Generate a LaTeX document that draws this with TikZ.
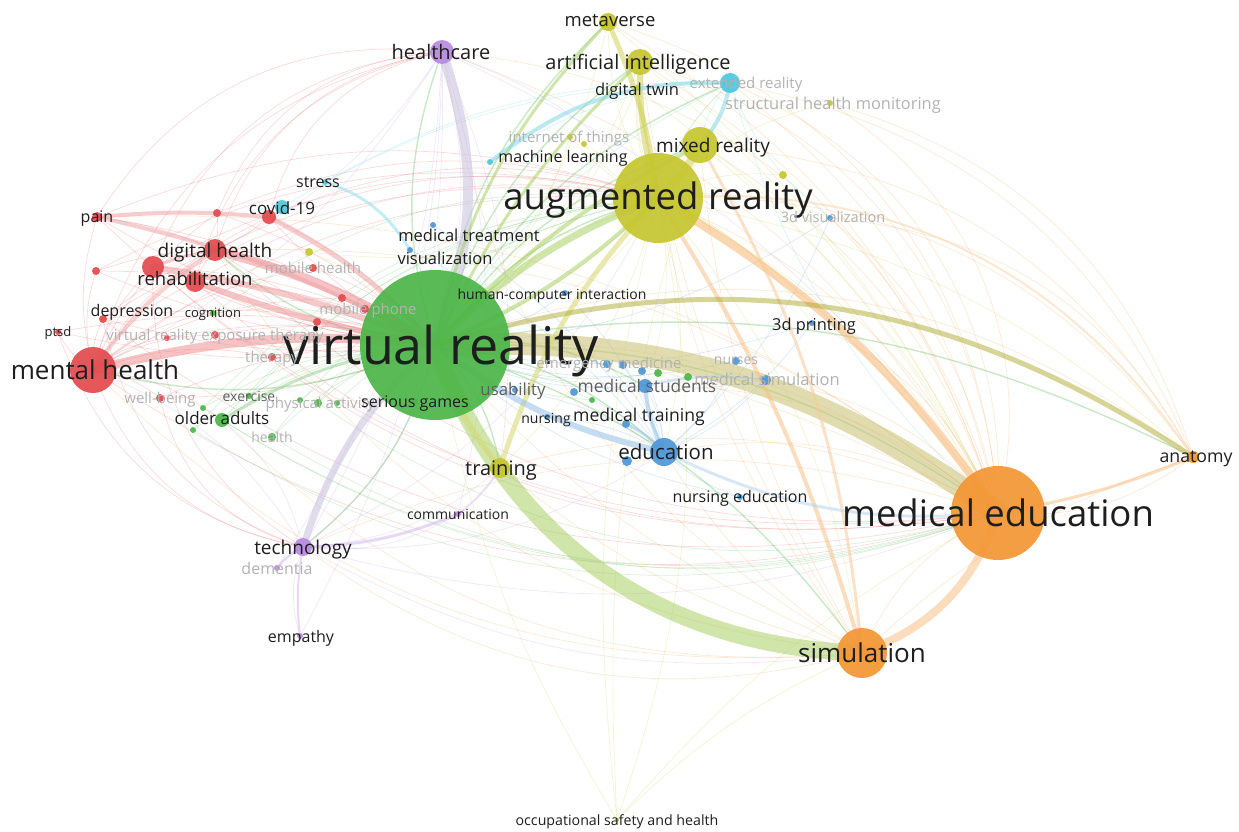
\documentclass[tikz,border=0pt]{standalone}
\usepackage{fontspec}
\setmainfont{Open Sans}
\usetikzlibrary{calc}

\definecolor{cgreen}{RGB}{76,182,72}
\definecolor{cyel}{RGB}{198,198,48}
\definecolor{corange}{RGB}{244,150,52}
\definecolor{cred}{RGB}{226,74,78}
\definecolor{cblue}{RGB}{78,150,214}
\definecolor{cpurp}{RGB}{184,138,224}
\definecolor{ccyan}{RGB}{78,200,222}
\definecolor{ink}{RGB}{30,30,30}
\definecolor{midink}{RGB}{95,95,95}
\definecolor{faintink}{RGB}{178,178,178}
\definecolor{khaki}{RGB}{200,192,112}
\definecolor{lgreen}{RGB}{168,208,100}
\definecolor{lavender}{RGB}{200,192,222}

\pgfdeclarelayer{paper}
\pgfdeclarelayer{edges}
\pgfsetlayers{paper,edges,main}

\begin{document}
\begin{tikzpicture}[x=1pt, y=-1pt,
                    kw/.style={circle, inner sep=0pt, fill opacity=0.92},
                    lab/.style={inner sep=0pt, text depth=0pt},
                    faint edge/.style={line width=0.7pt, opacity=0.2},
                    mid edge/.style={line width=1.4pt, opacity=0.3},
                    band/.style={line cap=round, opacity=0.55}
                    ]
    \useasboundingbox (0,0) rectangle (1239,832);
    \begin{pgfonlayer}{paper}
    \fill[white] (0,0) rectangle (1239,832);
    \end{pgfonlayer}

    % keywords: name/x/y/radius/colour
    \foreach \n/\x/\y/\r/\c in {
        vr/435/345/75/cgreen, ar/658/198/45/cyel, me/998/513/47/corange,
        sim/862/653/25/corange, mh/93/370/23/cred, edu/664/452/14/cblue,
        mr/700/145/18/cyel, trn/500/468/10/cyel, hc/442/52/12/cpurp,
        tech/303/547/9/cpurp, ai/640/62/13/cyel, meta/608/22/9/cyel,
        xr/730/83/10/ccyan, dh/215/250/11/cred, reh/195/282/10/cred,
        rx/153/267/11/cred, cov/282/207/7/ccyan, covr/269/217/7/cred,
        pain/97/217/5/cred, stress/325/182/3/ccyan, dep/103/319/4/cred,
        ptsd/58/332/3/cred, cog/213/313/3/cgreen, vret/215/335/4/cred,
        vret2/167/338/3/cred, ther/272/357/4/cred, wb/160/398/4/cred,
        oa/222/420/7/cgreen, pa/318/403/4/cgreen, pa2/300/400/3/cgreen,
        pa3/337/403/3/cgreen, hlth/272/437/4/cgreen, g1/203/408/3/cgreen,
        g2/193/430/3/cgreen, mobh/313/268/4/cred, mobp/365/309/4/cred,
        r1/342/298/4/cred, r2/317/322/4/cred, y1/309/252/4/cyel,
        r3/217/213/4/cred, r4/96/271/4/cred, medt/433/225/3/cblue,
        vis/410/250/3/cblue, ml/490/162/3/ccyan, iot/570/137/3/cyel,
        y2/584/144/3/cyel, dt/637/88/3/cyel, shm/830/103/3/cyel,
        y3/783/175/4/cyel, v3d/830/218/3/cblue, hci/565/293/3/cblue,
        p3d/812/323/3/cblue, usab/515/390/3/cblue, ms/645/386/7/cblue,
        msim/766/380/5/cblue, nurses/736/361/4/cblue, em/607/364/4/cblue,
        b2/623/365/4/cblue, b3/642/371/4/cblue, g3/658/373/4/cgreen,
        g4/688/377/4/cgreen, g5/592/400/3/cgreen, b4/574/392/4/cblue,
        mt/626/424/4/cblue, nurs/547/417/3/cblue, b5/627/461/5/cblue,
        ne/740/497/3/cblue, comm/458/514/3/cpurp, dem/277/568/3/cpurp,
        emp/300/636/3/cpurp, anat/1193/457/6/corange, osh/617/820/2/cyel,
        sg/415/402/3/cgreen, exer/249/396/3/cgreen}
        \node[kw, fill=\c, minimum size=2*\r] (\n) at (\x,\y) {};

    \begin{pgfonlayer}{edges}
    % thin links by cluster
    \foreach \n in {pain,dep,ptsd,vret,vret2,ther,wb,mobh,mobp,r1,r2,r3,r4,rx,covr,dh,reh}
        \draw[faint edge, cred] (\n.center) to[bend left=12] (vr.center);
    \foreach \n in {pain,dep,ptsd,vret,wb,r4,rx,dh,reh,covr}
        \draw[faint edge, cred] (\n.center) to[bend right=10] (vr.center);
    \foreach \n in {pain,dep,ptsd,dh,reh,rx,r4,vret,vret2,ther,wb,covr,r3,cog,oa,mobh,r1}
        \draw[faint edge, cred] (mh.center) to[bend left=15] (\n.center);
    \foreach \n in {pain,r3,covr,r4,dh,reh,rx,dep,mobh}
        \draw[faint edge, cred] (\n.center) to[bend left=8] (dh.center);
    \foreach \n in {mh,dh,reh,rx,pain,covr,r3,dep,r4}
        \draw[faint edge, cred] (\n.center) to[bend left=20] (ar.center);
    \foreach \n in {mh,dh,reh,rx,pain,covr,r3}
        \draw[faint edge, cred] (\n.center) to[bend left=32] (hc.center);
    \foreach \n in {mh,dh,reh,rx,pain,dep}
        \draw[faint edge, cred] (\n.center) to[bend right=25] (me.center);
    \foreach \n in {mh,wb,dep,ptsd,rx}
        \draw[faint edge, cred] (\n.center) to[bend right=30] (tech.center);
    \foreach \n in {cog,oa,pa,pa2,pa3,hlth,g1,g2,exer,sg,g3,g4,g5}
        \draw[faint edge, cgreen] (vr.center) to[bend right=15] (\n.center);
    \foreach \n in {oa,pa,hlth,g1,g2,exer,cog}
        \draw[faint edge, cgreen] (\n.center) to[bend left=20] (ar.center);
    \foreach \n in {oa,pa,hlth,g1,g2}
        \draw[faint edge, cgreen] (\n.center) to[bend right=25] (me.center);
    \foreach \n in {ar,me,sim,mr,ai,meta,edu,ms,anat,hc,tech,xr,trn,mh,dh}
        \draw[mid edge, cgreen] (vr.center) to[bend left=18] (\n.center);
    \foreach \n in {meta,ai,mr,iot,y2,dt,shm,y3,trn,osh,ml,xr,hci,p3d,v3d,edu,ms,sim,me,anat,y1}
        \draw[faint edge, cyel] (ar.center) to[bend left=15] (\n.center);
    \foreach \n in {meta,ai,mr,trn,y1,iot,dt}
        \draw[faint edge, cyel] (\n.center) to[bend left=15] (vr.center);
    \foreach \n in {meta,ai,mr,dt,iot}
        \draw[faint edge, cyel] (\n.center) to[bend left=12] (me.center);
    \foreach \n in {ms,mt,nurs,b5,ne,usab,b2,b3,b4,em,nurses,msim,p3d,v3d,hci,medt,vis}
        \draw[faint edge, cblue] (edu.center) to[bend right=12] (\n.center);
    \foreach \n in {medt,vis,hci,p3d,v3d,usab,ms,msim,nurses,ne}
        \draw[faint edge, cblue] (\n.center) to[bend left=15] (vr.center);
    \foreach \n in {sim,anat,ar,mr,ai,meta,xr,msim,p3d,v3d,ms,edu,trn,vr,hc,tech,mh,dh,pain}
        \draw[faint edge, corange] (me.center) to[bend right=20] (\n.center);
    \foreach \n in {hc,meta,ai,xr,shm}
        \draw[faint edge, corange] (me.center) to[bend right=35] (\n.center);
    \foreach \n in {ar,mr,xr,shm,v3d,vr}
        \draw[faint edge, corange] (anat.center) to[bend right=28] (\n.center);
    \foreach \n in {ar,mr,ai,vr,edu,anat,trn}
        \draw[faint edge, corange] (sim.center) to[bend left=12] (\n.center);
    \foreach \n in {mh,tech,dh,oa,hc}
        \draw[faint edge, corange] (sim.center) to[bend left=25] (\n.center);
    \foreach \n in {vr,ar,tech,comm,emp,dem,mh,dh,me,trn}
        \draw[faint edge, cpurp] (hc.center) to[bend left=15] (\n.center);
    \foreach \n in {comm,emp,dem,trn,vr,ar,me,sim,mh,oa,edu}
        \draw[faint edge, cpurp] (tech.center) to[bend right=18] (\n.center);
    \foreach \n in {ml,stress,cov,mr,ar,vr,v3d,me}
        \draw[faint edge, ccyan] (xr.center) to[bend right=15] (\n.center);
    \foreach \n in {ar,vr,me,mr,sim}
        \draw[faint edge, cyel] (osh.center) to[bend left=10] (\n.center);

    % strong links
    \draw[band, khaki, line width=22pt] (vr.center) to[bend left=19] (me.center);
    \draw[band, lgreen, line width=17pt] (vr.center) to[bend right=34] (sim.center);
    \draw[band, corange!70, line width=8pt] (ar.center) to[bend left=12] (me.center);
    \draw[band, corange!60, line width=8pt] (sim.center) to[bend right=25] (me.center);
    \draw[band, corange!60, line width=4pt] (ar.center) to[bend left=8] (sim.center);
    \draw[band, corange!50, line width=3pt] (mr.center) to[bend left=12] (sim.center);
    \draw[band, lgreen, line width=7pt] (vr.center) to[bend left=12] (ar.center);
    \draw[band, lgreen, line width=4pt] (vr.center) to[bend right=10] (ar.center);
    \draw[band, cyel!70, line width=5pt] (ar.center) to[bend right=12] (trn.center);
    \draw[band, lavender, line width=10pt] (hc.center) to[bend left=20] (vr.center);
    \draw[band, lavender, line width=7pt] (tech.center) to[bend left=15] (vr.center);
    \draw[band, cred!60, line width=9pt] (mh.center) to[bend left=10] (vr.center);
    \draw[band, cred!60, line width=9pt] (dh.center) to[bend left=8] (vr.center);
    \draw[band, cred!60, line width=6pt] (reh.center) to[bend right=5] (vr.center);
    \draw[band, cred!55, line width=6pt] (rx.center) to[bend left=6] (vr.center);
    \draw[band, cred!50, line width=5pt] (covr.center) to[bend left=10] (vr.center);
    \draw[band, cred!50, line width=4pt] (pain.center) to[bend left=8] (vr.center);
    \draw[band, cred!50, line width=4pt] (pain.center) to[bend left=5] (covr.center);
    \draw[band, cred!45, line width=4pt] (mh.center) to[bend left=10] (dh.center);
    \draw[band, cred!45, line width=3pt] (rx.center) to[bend left=5] (dh.center);
    \draw[band, cblue!60, line width=6pt] (vr.center) to[bend right=12] (edu.center);
    \draw[band, cblue!60, line width=4pt] (edu.center) to[bend left=10] (ms.center);
    \draw[band, cblue!50, line width=3pt] (edu.center) to[bend right=10] (mt.center);
    \draw[band, cblue!40, line width=3pt] (edu.center) to[bend right=15] (me.center);
    \draw[band, cblue!50, line width=2pt] (ms.center) to[bend left=10] (msim.center);
    \draw[band, cyel!80, line width=8pt] (ar.center) to[bend right=10] (mr.center);
    \draw[band, cyel!80, line width=6pt] (ar.center) to[bend left=8] (ai.center);
    \draw[band, cyel!80, line width=5pt] (ar.center) to[bend right=8] (meta.center);
    \draw[band, lgreen, line width=3pt] (vr.center) to[bend left=10] (ai.center);
    \draw[band, lgreen, line width=3pt] (vr.center) to[bend left=15] (meta.center);
    \draw[band, lgreen, line width=4pt] (vr.center) to[bend left=10] (mr.center);
    \draw[band, cyel!70, line width=5pt] (vr.center) to[bend right=10] (trn.center);
    \draw[band, olive!60!cyel, line width=5pt, opacity=0.45] (vr.center) to[bend left=25] (anat.center);
    \draw[band, corange!60, line width=3pt] (me.center) to[bend right=6] (anat.center);
    \draw[band, corange!40, line width=2pt] (ar.center) to[bend left=30] (anat.center);
    \draw[band, ccyan!70, line width=4pt] (xr.center) to[bend right=20] (ml.center);
    \draw[band, ccyan!70, line width=4pt] (xr.center) to[bend left=15] (mr.center);
    \draw[band, ccyan!60, line width=3pt] (stress.center) to[bend left=20] (vis.center);
    \draw[band, cpurp!60, line width=3pt] (tech.center) to[bend right=10] (comm.center);
    \draw[band, cpurp!60, line width=2pt] (tech.center) to[bend right=8] (emp.center);
    \draw[band, cpurp!60, line width=2pt] (tech.center) to[bend right=10] (dem.center);
    \draw[band, cpurp!50, line width=2pt] (comm.center) to[bend right=10] (trn.center);
    \draw[band, cgreen!60, line width=3pt] (oa.center) to[bend left=12] (vr.center);
    \end{pgfonlayer}

    % labels: node/text/size/dx/dy/colour
    \foreach \n/\t/\s/\dx/\dy/\c in {
        vr/virtual reality/52/6/0/ink, ar/augmented reality/36.5/0/-2/ink,
        me/medical education/36.5/0/0/ink, sim/simulation/26/0/0/ink,
        mh/mental health/26/2/0/ink, edu/education/20.5/2/0/ink,
        mr/mixed reality/19/13/0/ink, trn/training/20/1/0/ink,
        hc/healthcare/20/-1/0/ink, tech/technology/19/0/0/ink,
        ai/artificial intelligence/20/-2/0/ink, meta/metaverse/18.5/2/-2/ink,
        xr/extended reality/15/16/0/faintink, dh/digital health/19/0/0/ink,
        reh/rehabilitation/18.5/0/-4/ink, cov/covid-19/17/0/1/ink,
        pain/pain/16/0/0/ink, stress/stress/16/-7/0/ink,
        dep/depression/16/29/-9/ink, ptsd/ptsd/13/0/0/ink,
        cog/cognition/13/0/0/ink, vret/virtual reality exposure therapy/15/0/0/faintink,
        ther/therapy/15/0/0/faintink, wb/well-being/15/0/0/faintink,
        exer/exercise/14/0/0/midink, oa/older adults/17/0/-2/ink,
        pa/physical activity/15/2/0/faintink, sg/serious games/16/0/0/ink,
        hlth/health/14/0/0/faintink, mobh/mobile health/15/0/0/faintink,
        mobp/mobile phone/15/3/0/faintink, medt/medical treatment/16.5/36/10/ink,
        vis/visualization/16.5/35/8/ink, ml/machine learning/16/73/-6/ink,
        iot/internet of things/15/-1/0/faintink, dt/digital twin/16.5/0/1/ink,
        shm/structural health monitoring/16.4/3/0/faintink, v3d/3d visualization/14.5/3/-1/faintink,
        hci/human-computer interaction/14/-13/1/ink, p3d/3d printing/16.4/2/1/ink,
        usab/usability/16.8/-2/-1/midink, ms/medical students/17.4/2/0/midink,
        msim/medical simulation/16.5/1/-1/faintink, nurses/nurses/14/0/0/faintink,
        em/emergency medicine/15/2/-1/faintink, mt/medical training/17.6/13/-9/ink,
        nurs/nursing/14/-1/1/ink, ne/nursing education/16/0/-1/ink,
        comm/communication/14/0/0/ink, dem/dementia/16/0/0/faintink,
        emp/empathy/16/1/0/ink, anat/anatomy/17.7/3/0/ink,
        osh/occupational safety and health/14.2/0/0/ink}
        \node[lab, text=\c, font=\fontsize{\s}{\s}\selectfont] (l-\n) at ($(\n)+(\dx,\dy)$) {\t};
\end{tikzpicture}
\end{document}
